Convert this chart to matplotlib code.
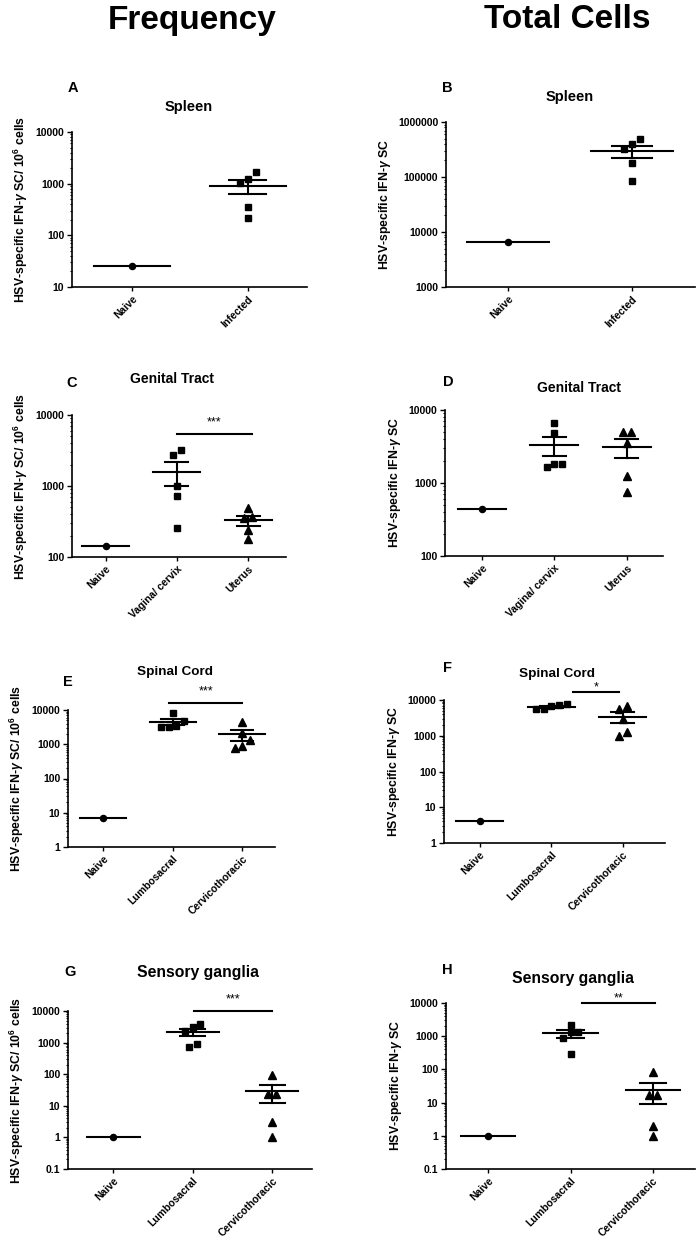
import numpy as np
import matplotlib
matplotlib.use('Agg')
import matplotlib.pyplot as plt
from matplotlib.ticker import LogLocator, FuncFormatter, NullFormatter

plt.rcParams['font.family'] = ['Liberation Sans', 'DejaVu Sans']
plt.rcParams['font.weight'] = 'bold'
plt.rcParams['mathtext.fontset'] = 'custom'
plt.rcParams['mathtext.rm'] = 'Liberation Sans:bold'
plt.rcParams['mathtext.it'] = 'Liberation Sans:italic'
plt.rcParams['mathtext.bf'] = 'Liberation Sans:bold'

# ---- data ----
spleen_cats = ['Naive', 'Infected']
spleen_freq_naive = [25]
spleen_freq_inf = [1650, 1250, 1020, 350, 215]
spleen_tot_naive = [6600]
spleen_tot_inf = [498000, 392000, 318000, 180000, 85000]

genital_cats = ['Naive', 'Vagina/ cervix', 'Uterus']
genital_freq_naive = [142]
genital_freq_vag = [3220, 2740, 1000, 723, 253]
genital_freq_ut = [484, 369, 360, 240, 182]
genital_tot_naive = [445]
genital_tot_vag = [6560, 4790, 1820, 1670, 1820]
genital_tot_ut = [5050, 5050, 3490, 1250, 760]

cord_cats = ['Naive', 'Lumbosacral', 'Cervicothoracic']
spinal_freq_naive = [7.1]
spinal_freq_lumbo = [8000, 4800, 3400, 3200, 3200]
spinal_freq_cerv = [4600, 2190, 1310, 800, 890]
spinal_tot_naive = [4]
spinal_tot_lumbo = [7810, 6590, 5550, 5550, 7180]
spinal_tot_cerv = [6580, 5550, 2920, 1240, 960]

ganglia_freq_naive = [1]
ganglia_freq_lumbo = [3120, 3800, 2290, 730, 890]
ganglia_freq_cerv = [93, 24.5, 24.5, 3.1, 1]
ganglia_tot_naive = [1]
ganglia_tot_lumbo = [2250, 1320, 1320, 890, 300]
ganglia_tot_cerv = [85, 17.4, 17.4, 2, 1]

W, H = 700, 1253
fig = plt.figure(figsize=(W / 100, H / 100), dpi=100)

freq_label = r'HSV-specific IFN-$\gamma$ SC/ 10$^{6}$ cells'
tot_label = r'HSV-specific IFN-$\gamma$ SC'


def px_axes(l, r, t, b):
    return fig.add_axes([l / W, 1 - b / H, (r - l) / W, (b - t) / H])


def spread(vals, ax, msize=6.5, gap=7.7):
    # GraphPad style: points at similar height are spread symmetrically
    pos = ax.get_position()
    hpx = pos.height * H
    wpx = pos.width * W
    lo, hi = ax.get_ylim()
    x0, x1 = ax.get_xlim()
    ypx = (np.log10(vals) - np.log10(lo)) / (np.log10(hi) - np.log10(lo)) * hpx
    order = np.argsort(ypx)
    offs = np.zeros(len(vals))
    rows, cur = [], [order[0]]
    for k in order[1:]:
        if abs(ypx[k] - ypx[cur[-1]]) < msize:
            cur.append(k)
        else:
            rows.append(cur)
            cur = [k]
    rows.append(cur)
    for row in rows:
        n = len(row)
        for j, k in enumerate(row):
            offs[k] = (j - (n - 1) / 2) * gap / wpx * (x1 - x0)
    return offs


def panel(ax, groups, markers, cats, ylim, xlim, ylabel):
    ax.set_yscale('log')
    ax.set_ylim(ylim)
    ax.set_xlim(xlim)
    ms = {'o': 4.4, 's': 5.0, '^': 5.4}
    for i, (vals, m) in enumerate(zip(groups, markers)):
        vals = np.array(vals, dtype=float)
        offs = spread(vals, ax)
        ax.plot(i + offs, vals, m, color='k', ms=ms[m], ls='none', clip_on=False, zorder=3)
        mean = vals.mean()
        ax.plot([i - 0.33, i + 0.33], [mean, mean], 'k-', lw=1.5, zorder=4)
        if len(vals) > 1:
            sem = vals.std(ddof=1) / np.sqrt(len(vals))
            ax.plot([i, i], [mean - sem, mean + sem], 'k-', lw=1.5, zorder=4)
            for yy in (mean - sem, mean + sem):
                ax.plot([i - 0.16, i + 0.16], [yy, yy], 'k-', lw=1.5, zorder=4)
    ax.set_xticks(range(len(cats)))
    ax.set_xticklabels(cats, rotation=45, ha='right', rotation_mode='anchor', fontsize=7.5)
    ax.yaxis.set_major_locator(LogLocator(base=10, numticks=20))
    ax.yaxis.set_minor_locator(LogLocator(base=10, subs=np.arange(2, 10), numticks=20))
    ax.yaxis.set_minor_formatter(NullFormatter())
    ax.yaxis.set_major_formatter(FuncFormatter(lambda v, _: '{:.10g}'.format(v)))
    ax.tick_params(axis='y', which='major', labelsize=7.5, length=3.5, width=1, pad=2)
    ax.tick_params(axis='y', which='minor', length=1.8, width=0.8)
    ax.tick_params(axis='x', length=3, width=1, pad=2)
    for s in ('top', 'right'):
        ax.spines[s].set_visible(False)
    for s in ('left', 'bottom'):
        ax.spines[s].set_linewidth(1.2)
    ax.set_ylabel(ylabel, fontsize=8.8, fontweight='bold', labelpad=4)


def sig(ax, x0, x1, y, stars, off):
    ax.plot([x0, x1], [y, y], 'k-', lw=1.5, clip_on=False)
    ax.annotate(stars, xy=((x0 + x1) / 2, y), xytext=(0, off), textcoords='offset points',
                ha='center', va='bottom', fontsize=9, fontweight='normal', annotation_clip=False)


def ftext(x, y, s, size):
    fig.text(x / W, 1 - y / H, s, ha='center', va='center', fontsize=size, fontweight='bold')


ftext(192, 20, 'Frequency', 24)
ftext(567, 20, 'Total Cells', 24)

# A
ax = px_axes(72, 307, 132, 287)
panel(ax, [spleen_freq_naive, spleen_freq_inf], ['o', 's'], spleen_cats,
      (10, 10000), (-0.52, 1.51), freq_label)
# B
ax = px_axes(446, 695, 122, 287)
panel(ax, [spleen_tot_naive, spleen_tot_inf], ['o', 's'], spleen_cats,
      (1000, 1000000), (-0.5, 1.51), tot_label)
# C
ax = px_axes(72, 286, 415, 557)
panel(ax, [genital_freq_naive, genital_freq_vag, genital_freq_ut], ['o', 's', '^'], genital_cats,
      (100, 10000), (-0.47, 2.53), freq_label)
sig(ax, 1.0, 2.05, 5400, '***', 4)
# D
ax = px_axes(445, 663, 410, 556)
panel(ax, [genital_tot_naive, genital_tot_vag, genital_tot_ut], ['o', 's', '^'], genital_cats,
      (100, 10000), (-0.51, 2.5), tot_label)
# E
ax = px_axes(68, 275, 710, 847)
panel(ax, [spinal_freq_naive, spinal_freq_lumbo, spinal_freq_cerv], ['o', 's', '^'], cord_cats,
      (1, 10000), (-0.5, 2.47), freq_label)
sig(ax, 0.95, 2.0, 16000, '***', 4)
# F
ax = px_axes(444, 665, 700, 843)
panel(ax, [spinal_tot_naive, spinal_tot_lumbo, spinal_tot_cerv], ['o', 's', '^'], cord_cats,
      (1, 10000), (-0.5, 2.59), tot_label)
sig(ax, 1.3, 1.95, 16700, '*', -1)
# G
ax = px_axes(68, 312, 1011, 1169)
panel(ax, [ganglia_freq_naive, ganglia_freq_lumbo, ganglia_freq_cerv], ['o', 's', '^'], cord_cats,
      (0.1, 10000), (-0.57, 2.5), freq_label)
sig(ax, 1.02, 2.0, 10000, '***', 4)
# H
ax = px_axes(446, 695, 1003, 1169)
panel(ax, [ganglia_tot_naive, ganglia_tot_lumbo, ganglia_tot_cerv], ['o', 's', '^'], cord_cats,
      (0.1, 10000), (-0.51, 2.51), tot_label)
sig(ax, 1.14, 2.02, 10000, '**', -1)

# panel letters and titles
for x, y, s in [(73, 88, 'A'), (447, 88, 'B'), (72, 383, 'C'), (448, 382, 'D'),
                (68, 682, 'E'), (448, 668, 'F'), (70, 972, 'G'), (447, 970, 'H')]:
    ftext(x, y, s, 10.5)
for x, y, s, fs in [(189, 107, 'Spleen', 10.5), (570, 97, 'Spleen', 10.5),
                    (172, 379, 'Genital Tract', 10), (579, 388, 'Genital Tract', 10),
                    (175, 672, 'Spinal Cord', 9.7), (557, 674, 'Spinal Cord', 9.7),
                    (198, 972, 'Sensory ganglia', 11.3), (573, 978, 'Sensory ganglia', 11.3)]:
    ftext(x, y, s, fs)

fig.savefig('out.png', dpi=100)
